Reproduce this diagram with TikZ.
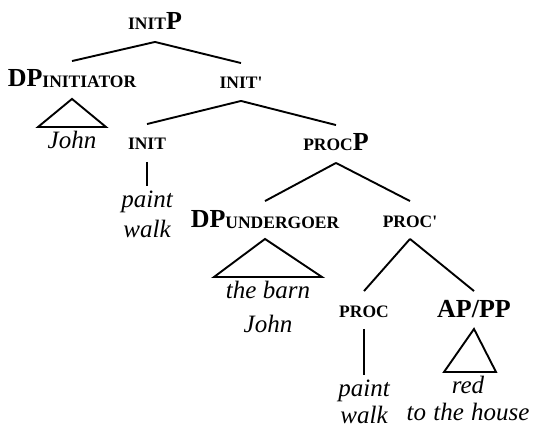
\documentclass[tikz,border=0pt]{standalone}
\usepackage{fontspec}
\setmainfont{Liberation Serif}
\newcommand\sm[1]{{\fontsize{17.5}{18}\selectfont #1}}
\newcommand\leafstrut{\rule{0pt}{21pt}}

\begin{document}
\begin{tikzpicture}[x=1pt,y=-1pt,line width=1.9pt,
  cat/.style={font=\fontsize{26}{30}\selectfont\bfseries, text height=18pt, text depth=4pt, inner xsep=0pt, inner ysep=7pt, anchor=base},
  leaf/.style={font=\fontsize{25}{30}\selectfont\itshape, align=center, inner sep=0pt, anchor=north}]
\useasboundingbox (0,0) rectangle (534,430);

\node[cat] (initP) at (155,30) {\sm{INIT}P};
\node[cat] (dpi) at (72,87) {DP\raisebox{-1pt}{\sm{INITIATOR}}};
\node[cat] (initbar) at (241,89) {\sm{INIT\textquotesingle}};
\node[leaf] (john) at (72,127) {\leafstrut John};
\node[cat] (init) at (147,150) {\sm{INIT}};
\node[cat] (procP) at (336,151) {\sm{PROC}P};
\node[leaf] (paintA) at (147,186) {\leafstrut paint\\walk};
\node[cat] (dpu) at (265,227) {DP\raisebox{-1pt}{\sm{UNDERGOER}}};
\node[cat] (procbar) at (410,227) {\sm{PROC\textquotesingle}};
\node[leaf] (barn) at (268,277) {\leafstrut the barn\\[4pt]John};
\node[cat] (proc) at (364,317) {\sm{PROC}};
\node[cat] (appp) at (474,317) {AP/PP};
\node[leaf] (paintB) at (364,375) {\leafstrut paint\\[-3pt]walk};
\node[leaf] (red) at (468,372) {\leafstrut red\\[-3pt]to\hspace{1pt} the\hspace{1pt} house};

\draw (initP.south) -- (dpi.north);
\draw (initP.south) -- (initbar.north);
\draw (initbar.south) -- (init.north);
\draw (initbar.south) -- (procP.north);
\draw (init.south) -- (paintA.north);
\draw (procP.south) -- (dpu.north);
\draw (procP.south) -- (procbar.north);
\draw (procbar.south) -- (proc.north);
\draw (procbar.south) -- (appp.north);
\draw (proc.south) -- (paintB.north);
% triangles
\draw (dpi.south) -- ([xshift=-34pt]john.north) -- ([xshift=34pt]john.north) -- cycle;
\draw (dpu.south) -- ([xshift=-54pt]barn.north) -- ([xshift=54pt]barn.north) -- cycle;
\draw (appp.south) -- ([xshift=-24pt]red.north) -- ([xshift=28pt]red.north) -- cycle;

\end{tikzpicture}
\end{document}
